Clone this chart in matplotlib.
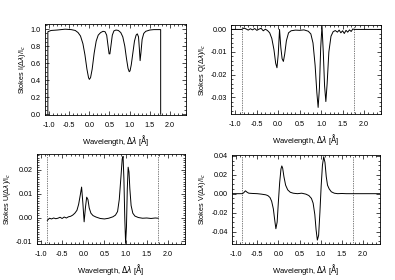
import numpy as np
import matplotlib
matplotlib.use("Agg")
import matplotlib.pyplot as plt
from matplotlib.ticker import MultipleLocator, FormatStrFormatter

plt.rcParams['font.family'] = ['Liberation Sans', 'DejaVu Sans']

# Stokes I profile (normalised to continuum)
wl_I = [-1.03, -1.03, -0.95, -0.8, -0.6, -0.45, -0.35, -0.28, -0.22, -0.16,
        -0.11, -0.06, -0.02, 0.0, 0.03, 0.07, 0.12, 0.17, 0.22, 0.28,
        0.34, 0.39, 0.43, 0.46, 0.49, 0.51, 0.54, 0.57, 0.61, 0.66,
        0.72, 0.78, 0.83, 0.88, 0.92, 0.96, 0.99, 1.01, 1.04, 1.08,
        1.12, 1.16, 1.19, 1.22, 1.24, 1.26, 1.28, 1.31, 1.35, 1.4,
        1.5, 1.6, 1.77, 1.77]
stokes_I = [0.0, 0.97, 0.985, 0.99, 1.0, 0.995, 0.985, 0.96, 0.92, 0.83,
            0.7, 0.53, 0.43, 0.41, 0.43, 0.53, 0.72, 0.86, 0.93, 0.96,
            0.975, 0.97, 0.93, 0.82, 0.71, 0.71, 0.82, 0.93, 0.98, 0.99,
            0.985, 0.96, 0.91, 0.8, 0.66, 0.54, 0.5, 0.51, 0.58, 0.72,
            0.86, 0.93, 0.945, 0.91, 0.78, 0.63, 0.72, 0.88, 0.95, 0.975,
            0.99, 0.995, 0.995, 0.0]

# Stokes Q
wl_Q = [-1.15, -0.85, -0.8, -0.75, -0.7, -0.65, -0.6, -0.55, -0.5, -0.45,
        -0.4, -0.35, -0.3, -0.25, -0.2, -0.15, -0.1, -0.06, -0.03, 0.0,
        0.03, 0.06, 0.09, 0.12, 0.15, 0.19, 0.24, 0.3, 0.4, 0.5,
        0.6, 0.7, 0.76, 0.81, 0.86, 0.9, 0.93, 0.96, 0.99, 1.02,
        1.05, 1.08, 1.11, 1.14, 1.18, 1.23, 1.28, 1.33, 1.38, 1.42,
        1.46, 1.5, 1.54, 1.58, 1.62, 1.66, 1.7, 1.74, 1.77, 1.8,
        2.4]
stokes_Q = [0.0, 0.0, 0.0006, 0.0002, -0.0003, 0.0003, -0.0002, 0.0004, -0.0004, 0.0001,
            0.0005, -0.0006, 0.0001, -0.0005, -0.0015, -0.004, -0.009, -0.015, -0.017, -0.011,
            0.0, -0.008, -0.013, -0.0142, -0.011, -0.005, -0.0015, -0.0006, -0.0003, -0.0004,
            -0.0002, -0.0008, -0.002, -0.006, -0.016, -0.028, -0.0346, -0.026, -0.008, 0.0015,
            -0.01, -0.025, -0.032, -0.024, -0.01, -0.003, -0.001, -0.0005, -0.0012, -0.0003,
            -0.0015, -0.0006, -0.0018, -0.0004, -0.0012, -0.0002, -0.0009, 0.0002, 0.0, 0.0,
            0.0]

# Stokes U
wl_U = [-0.85, -0.8, -0.75, -0.7, -0.65, -0.6, -0.55, -0.5, -0.45, -0.4,
        -0.35, -0.3, -0.25, -0.2, -0.15, -0.11, -0.07, -0.04, -0.01, 0.02,
        0.05, 0.08, 0.11, 0.14, 0.18, 0.23, 0.3, 0.4, 0.5, 0.6,
        0.7, 0.76, 0.81, 0.85, 0.89, 0.92, 0.94, 0.96, 0.98, 1.0,
        1.02, 1.04, 1.06, 1.08, 1.1, 1.13, 1.17, 1.22, 1.3, 1.4,
        1.5, 1.6, 1.7, 1.77]
stokes_U = [-0.0012, -0.0003, -0.0006, -0.0002, -0.0005, -0.0003, 0.0001, -0.0004, 0.0002, -0.0002,
            0.0003, 0.0005, 0.001, 0.0018, 0.003, 0.0055, 0.0095, 0.0127, 0.006, -0.0018,
            0.004, 0.0085, 0.0075, 0.004, 0.0018, 0.0008, 0.0002, -0.0004, -0.0006, -0.0003,
            0.0003, 0.001, 0.0025, 0.0075, 0.017, 0.0245, 0.0255, 0.016, 0.0, -0.0108,
            -0.004, 0.012, 0.021, 0.019, 0.012, 0.005, 0.0018, 0.0006, 0.0, -0.0003,
            -0.0002, -0.0004, -0.0002, -0.0003]

# Stokes V
wl_V = [-1.15, -0.85, -0.82, -0.78, -0.74, -0.7, -0.6, -0.5, -0.4, -0.3,
        -0.25, -0.2, -0.16, -0.12, -0.09, -0.06, -0.03, 0.0, 0.03, 0.06,
        0.08, 0.1, 0.13, 0.17, 0.22, 0.28, 0.35, 0.45, 0.55, 0.65,
        0.72, 0.78, 0.82, 0.86, 0.89, 0.92, 0.95, 0.98, 1.01, 1.04,
        1.07, 1.1, 1.13, 1.16, 1.2, 1.25, 1.32, 1.4, 1.5, 1.6,
        1.77, 2.4]
stokes_V = [0.0, 0.0, 0.001, 0.003, 0.0015, 0.0005, 0.0002, 0.0, -0.0005, -0.0012,
            -0.002, -0.004, -0.008, -0.016, -0.027, -0.037, -0.03, -0.008, 0.012, 0.026,
            0.0293, 0.027, 0.018, 0.009, 0.004, 0.0015, 0.0005, 0.0, 0.0005, -0.0005,
            -0.002, -0.005, -0.01, -0.022, -0.038, -0.049, -0.044, -0.02, 0.008, 0.03,
            0.039, 0.033, 0.018, 0.009, 0.005, 0.002, 0.0005, 0.0, 0.0002, 0.0,
            0.0, 0.0]

edges = [-0.85, 1.77]   # dotted limits of the observed range
xlabel = 'Wavelength, $\\Delta\\lambda$ [$\\mathrm{\\AA}$]'

fig = plt.figure(figsize=(3.95, 2.8), dpi=100)

panels = [
    # rect, x, y, ylim, ytick major, minor, fmt, ylabel, dotted
    ([0.114, 0.589, 0.357, 0.325], wl_I, stokes_I, (-0.01, 1.06), 0.2, 0.05, '%.1f',
     'Stokes I($\\Delta\\lambda$)/I$_c$', False),
    ([0.585, 0.593, 0.380, 0.318], wl_Q, stokes_Q, (-0.0375, 0.002), 0.01, 0.002, '%.2f',
     'Stokes Q($\\Delta\\lambda$)/I$_c$', True),
    ([0.093, 0.129, 0.375, 0.321], wl_U, stokes_U, (-0.011, 0.0265), 0.01, 0.001, '%.2f',
     'Stokes U($\\Delta\\lambda$)/I$_c$', True),
    ([0.587, 0.129, 0.375, 0.318], wl_V, stokes_V, (-0.053, 0.041), 0.02, 0.005, '%.2f',
     'Stokes V($\\Delta\\lambda$)/I$_c$', True),
]

for rect, x, y, ylim, ymaj, ymin, fmt, ylab, dotted in panels:
    ax = fig.add_axes(rect)
    ax.plot(x, y, color='k', lw=0.7)
    if dotted:
        for e in edges:
            ax.axvline(e, color='k', lw=0.5, ls=(0, (1, 1.5)))
    ax.set_xlim(-1.1, 2.4)
    ax.set_ylim(*ylim)
    ax.xaxis.set_major_locator(MultipleLocator(0.5))
    ax.xaxis.set_minor_locator(MultipleLocator(0.1))
    ax.xaxis.set_major_formatter(FormatStrFormatter('%.1f'))
    ax.yaxis.set_major_locator(MultipleLocator(ymaj))
    ax.yaxis.set_minor_locator(MultipleLocator(ymin))
    ax.yaxis.set_major_formatter(FormatStrFormatter(fmt))
    ax.tick_params(which='both', direction='in', top=True, right=True,
                   labelsize=5.2, width=0.5)
    ax.tick_params(axis='x', which='major', length=3, pad=5)
    ax.tick_params(axis='y', which='major', length=3, pad=3)
    ax.tick_params(which='minor', length=1.5)
    for s in ax.spines.values():
        s.set_linewidth(0.6)
    ax.set_xlabel(xlabel, fontsize=5.5, labelpad=3)
    ax.set_ylabel(ylab, fontsize=5.2, labelpad=2)

plt.savefig('out.png', dpi=100)
